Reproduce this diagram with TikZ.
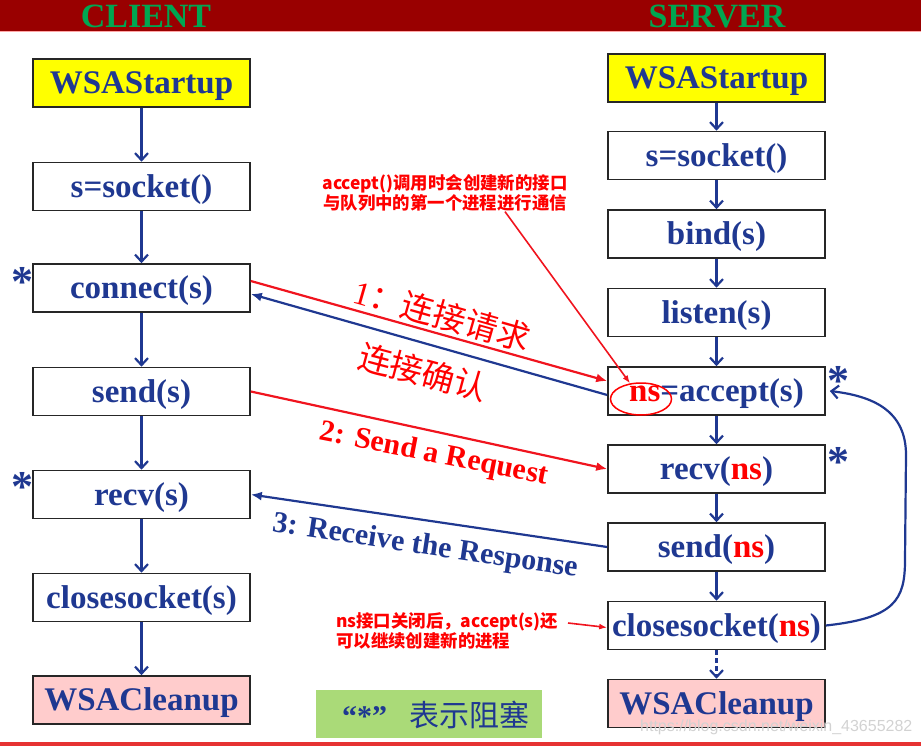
\documentclass[tikz,border=0pt]{standalone}
\usepackage{fontspec}
\setmainfont{Liberation Serif}
\setsansfont{Liberation Sans}
\newfontfamily\cjk{Noto Sans CJK SC}
\usetikzlibrary{arrows.meta,shapes.geometric,calc}
\definecolor{cblue}{RGB}{31,56,145}
\definecolor{cred}{RGB}{255,0,0}
\definecolor{arrred}{RGB}{240,20,30}
\definecolor{bannerred}{RGB}{153,0,0}
\definecolor{cgreen}{RGB}{0,166,81}
\definecolor{cpink}{RGB}{255,204,204}
\definecolor{cyellow}{RGB}{255,255,0}
\definecolor{lgreen}{RGB}{170,218,120}
\definecolor{bottomred}{RGB}{230,50,50}
\begin{document}
\begin{tikzpicture}[x=1pt,y=-1pt,
  box/.style={draw=black!85, line width=1.6pt, minimum width=217pt, minimum height=48pt,
    inner sep=0pt, text height=21.8pt, text depth=0pt,
    font=\bfseries\fontsize{33}{36}\selectfont, text=cblue, fill=white},
  flow/.style={draw=cblue, line width=2.2pt, -{Straight Barb[length=7pt,width=13pt]}},
  dflow/.style={flow, dash pattern=on 5pt off 3pt},
  redmsg/.style={draw=arrred, line width=2.2pt, -{Latex[length=11pt,width=9pt]}},
  bluemsg/.style={draw=cblue, line width=2.2pt, -{Latex[length=11pt,width=9pt]}},
  thinred/.style={draw=arrred, line width=1.6pt, -{Latex[length=8pt,width=6pt]}},
  starmark/.style={font=\bfseries\fontsize{44}{44}\selectfont, text=cblue, inner sep=0pt, anchor=base},
  banner/.style={font=\bfseries\fontsize{34}{34}\selectfont, text=cgreen, inner sep=0pt, text height=22.5pt, text depth=0pt},
  note/.style={font=\cjk\bfseries\fontsize{17.4}{20}\selectfont, text=cred, inner sep=0pt},
  cnlabel/.style={font=\cjk\fontsize{33}{34}\selectfont, text=cred, inner sep=0pt},
  enlabel/.style={font=\bfseries\fontsize{30}{32}\selectfont, inner sep=0pt}
]
\useasboundingbox (0,0) rectangle (921,746);
% banner and bottom rule
\fill[bannerred] (0,0) rectangle (921,31);
\draw[red!35, line width=1pt] (0,31.5) -- (921,31.5);
\fill[bottomred] (0,741.5) rectangle (921,746);
\node[banner] (tclient) at (146,16.5) {CLIENT};
\node[banner] (tserver) at (717,16.5) {SERVER};

% client column
\node[box, fill=cyellow] (lws) at (141.5,83) {WSAStartup};
\node[box] (lsock) at (141.5,186.5) {s=socket()};
\node[box] (lconn) at (141.5,288) {connect(s)};
\node[box] (lsend) at (141.5,391.5) {send(s)};
\node[box] (lrecv) at (141.5,494.5) {recv(s)};
\node[box] (lclose) at (141.5,597.5) {closesocket(s)};
\node[box, fill=cpink] (lclean) at (141.5,700) {WSACleanup};
\draw[flow] (lws) -- (lsock);
\draw[flow] (lsock) -- (lconn);
\draw[flow] (lconn) -- (lsend);
\draw[flow] (lsend) -- (lrecv);
\draw[flow] (lrecv) -- (lclose);
\draw[flow] (lclose) -- (lclean);

% server column
\node[box, fill=cyellow] (rws) at (716.5,78) {WSAStartup};
\node[box] (rsock) at (716.5,155.5) {s=socket()};
\node[box] (rbind) at (716.5,234) {bind(s)};
\node[box] (rlisten) at (716.5,312.5) {listen(s)};
\node[box] (racc) at (716.5,391) {{\color{cred}ns}=accept(s)};
\node[box] (rrecv) at (716.5,469) {recv({\color{cred}ns})};
\node[box] (rsend) at (716.5,547) {send({\color{cred}ns})};
\node[box] (rclose) at (716.5,625.5) {closesocket({\color{cred}ns})};
\node[box, fill=cpink] (rclean) at (716.5,703.5) {WSACleanup};
\draw[flow] (rws) -- (rsock);
\draw[flow] (rsock) -- (rbind);
\draw[flow] (rbind) -- (rlisten);
\draw[flow] (rlisten) -- (racc);
\draw[flow] (racc) -- (rrecv);
\draw[flow] (rrecv) -- (rsend);
\draw[flow] (rsend) -- (rclose);
\draw[dflow] (rclose) -- (rclean);

\node[draw=cred, line width=1.5pt, ellipse, minimum width=61pt, minimum height=32pt, inner sep=0pt] (nsell) at (641,399) {};

% blocking stars
\node[starmark] (s1) at (22,296) {*};
\node[starmark] (s2) at (22,501) {*};
\node[starmark] (s3) at (838,395) {*};
\node[starmark] (s4) at (838,476) {*};

% messages
\draw[redmsg] ([yshift=7pt]lconn.east) -- ([yshift=10pt]racc.west);
\draw[bluemsg] ([yshift=-4pt]racc.west) -- ([yshift=-6pt]lconn.east);
\draw[redmsg] (lsend.east) -- (rrecv.west);
\draw[bluemsg] (rsend.west) -- (lrecv.east);

\node[cnlabel, rotate=-16] (l1) at (442,315) {{\rmfamily 1}：连接请求};
\node[cnlabel, rotate=-15] (l1b) at (423,372) {连接确认};
\node[enlabel, text=cred, rotate=-11] (l2) at (434,455) {2: Send a Request};
\node[enlabel, text=cblue, rotate=-8.5] (l3) at (425,547) {3: Receive the Response};

% loop back
\draw[flow] (rclose.east) .. controls (895,618) and (905,600) .. (905,560)
  -- (906,455) .. controls (906,410) and (872,396) .. ([xshift=4pt]racc.east);

% annotations
\node[note, align=center] (anno1) at (445,193) {accept()调用时会创建新的接口\\与队列中的第一个进程进行通信};
\draw[thinred] ([xshift=60pt]anno1.south) -- (nsell.125);
\node[note, align=left, anchor=west] (anno2) at (336,630.5) {ns接口关闭后，accept(s)还\\可以继续创建新的进程};
\coordinate (a2s) at (568,623);
\draw[thinred] (a2s) -- ([yshift=-2pt]rclose.west);

% legend
\fill[lgreen] (316,690) rectangle (542,738);
\node[font=\bfseries\fontsize{30}{30}\selectfont, text=cblue, inner sep=0pt, anchor=base] (lq) at (364.5,726) {“*”};
\node[font=\cjk\fontsize{30}{30}\selectfont, text=cblue, inner sep=0pt] (lt) at (469.5,715) {表示阻塞};

% watermark
\node[font=\sffamily\fontsize{16}{16}\selectfont, text=gray!35, inner sep=0pt, anchor=west] (wm) at (640,727) {https://blog.csdn.net/weixin\_43655282};
\end{tikzpicture}
\end{document}
